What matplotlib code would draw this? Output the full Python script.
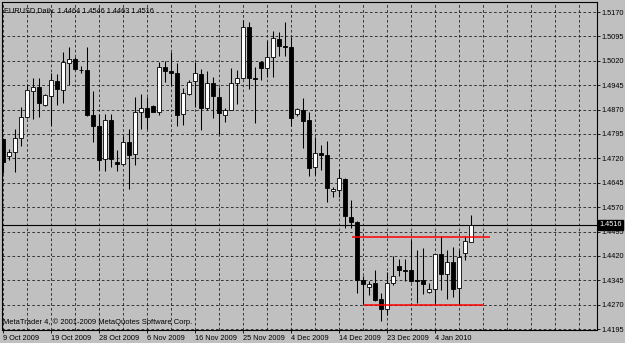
import matplotlib
matplotlib.use('Agg')
import matplotlib.pyplot as plt
import matplotlib.transforms as mtransforms
import numpy as np

# ---- data ----
chart_title = 'EURUSD,Daily  1.4464 1.4546 1.4463 1.4516'
copyright_text = 'MetaTrader 4, © 2001-2009 MetaQuotes Software Corp.'

date_labels = ['9 Oct 2009', '19 Oct 2009', '28 Oct 2009', '6 Nov 2009', '16 Nov 2009',
               '25 Nov 2009', '4 Dec 2009', '14 Dec 2009', '23 Dec 2009', '4 Jan 2010']

price_ticks = [1.5170, 1.5095, 1.5020, 1.4945, 1.4870, 1.4795, 1.4720,
               1.4645, 1.4570, 1.4495, 1.4420, 1.4345, 1.4270, 1.4195]

opens = [1.4780, 1.4728, 1.4739, 1.4782, 1.4846, 1.4927, 1.4938, 1.4883, 1.4912, 1.4959,
         1.4930, 1.5014, 1.5026, 1.4992, 1.4992, 1.4853, 1.4821, 1.4717, 1.4838, 1.4710,
         1.4703, 1.4771, 1.4733, 1.4864, 1.4876, 1.4881, 1.4864, 1.5002, 1.4989, 1.4982,
         1.4857, 1.4917, 1.4957, 1.4979, 1.4874, 1.4952, 1.4910, 1.4852, 1.4869, 1.4953,
         1.4966, 1.5123, 1.4967, 1.5015, 1.4998, 1.5033, 1.5087, 1.5064, 1.5061, 1.4856,
         1.4870, 1.4837, 1.4693, 1.4736, 1.4730, 1.4620, 1.4624, 1.4657, 1.4541, 1.4525,
         1.4345, 1.4326, 1.4336, 1.4288, 1.4256, 1.4336, 1.4390, 1.4376, 1.4378, 1.4345,
         1.4345, 1.4308, 1.4318, 1.4427, 1.4365, 1.4401, 1.4322, 1.4429, 1.4464]
highs = [1.4783, 1.4749, 1.4810, 1.4878, 1.4950, 1.4966, 1.4966, 1.4918, 1.4982, 1.4979,
         1.5048, 1.5061, 1.5032, 1.5004, 1.5061, 1.4927, 1.4855, 1.4856, 1.4856, 1.4746,
         1.4790, 1.4810, 1.4909, 1.4917, 1.4910, 1.4884, 1.5017, 1.5018, 1.5048, 1.5013,
         1.4936, 1.4961, 1.5016, 1.4995, 1.4990, 1.4970, 1.4939, 1.4874, 1.4997, 1.4992,
         1.5145, 1.5139, 1.5002, 1.5019, 1.5081, 1.5113, 1.5109, 1.5140, 1.5093, 1.4875,
         1.4905, 1.4864, 1.4787, 1.4761, 1.4773, 1.4632, 1.4686, 1.4660, 1.4592, 1.4528,
         1.4359, 1.4342, 1.4376, 1.4306, 1.4370, 1.4421, 1.4412, 1.4411, 1.4468, 1.4438,
         1.4444, 1.4337, 1.4426, 1.4482, 1.4437, 1.4449, 1.4438, 1.4481, 1.4546]
lows = [1.4675, 1.4715, 1.4677, 1.4758, 1.4844, 1.4840, 1.4848, 1.4881, 1.4823, 1.4884,
        1.4889, 1.4946, 1.4992, 1.4984, 1.4850, 1.4770, 1.4683, 1.4680, 1.4694, 1.4681,
        1.4700, 1.4625, 1.4701, 1.4811, 1.4810, 1.4863, 1.4853, 1.4955, 1.4946, 1.4820,
        1.4824, 1.4915, 1.4879, 1.4807, 1.4869, 1.4843, 1.4795, 1.4831, 1.4869, 1.4887,
        1.4964, 1.4934, 1.4828, 1.4961, 1.4969, 1.4969, 1.5036, 1.5035, 1.4821, 1.4849,
        1.4753, 1.4667, 1.4669, 1.4684, 1.4587, 1.4601, 1.4601, 1.4505, 1.4505, 1.4305,
        1.4269, 1.4300, 1.4283, 1.4219, 1.4240, 1.4331, 1.4358, 1.4343, 1.4340, 1.4276,
        1.4303, 1.4305, 1.4276, 1.4315, 1.4288, 1.4295, 1.4269, 1.4409, 1.4463]
closes = [1.4709, 1.4740, 1.4782, 1.4846, 1.4929, 1.4939, 1.4891, 1.4915, 1.4961, 1.4932,
          1.5015, 1.5025, 1.4994, 1.4991, 1.4853, 1.4821, 1.4715, 1.4838, 1.4717, 1.4704,
          1.4771, 1.4731, 1.4864, 1.4876, 1.4846, 1.4864, 1.5002, 1.4989, 1.4981, 1.4853,
          1.4920, 1.4955, 1.4982, 1.4876, 1.4953, 1.4912, 1.4859, 1.4869, 1.4953, 1.4966,
          1.5123, 1.4966, 1.4965, 1.4997, 1.5033, 1.5089, 1.5065, 1.5062, 1.4843, 1.4871,
          1.4835, 1.4690, 1.4737, 1.4730, 1.4628, 1.4625, 1.4659, 1.4543, 1.4525, 1.4346,
          1.4335, 1.4333, 1.4285, 1.4256, 1.4336, 1.4359, 1.4378, 1.4375, 1.4343, 1.4343,
          1.4335, 1.4318, 1.4425, 1.4366, 1.4403, 1.4318, 1.4418, 1.4466, 1.4516]

bid_price = 1.4516

# horizontal trend lines drawn on the chart (level, first bar, last bar)
line_levels = [1.4477, 1.4268]
line_starts = [58.1, 60.0]
line_ends = [81.2, 80.2]

# ---- figure ----
bg = '#C0C0C0'
plt.rcParams['font.family'] = ['Liberation Sans', 'DejaVu Sans']

fig = plt.figure(figsize=(6.25, 3.43), dpi=100, facecolor=bg)
ax = fig.add_axes([1.7 / 625, (343 - 330.3) / 343, (597 - 1.7) / 625, (330.3 - 1.7) / 343])
ax.set_facecolor(bg)

# grid: every 4 bars / every price tick, short black dashes
for gx in range(0, 100, 4):
    ax.axvline(gx, color='#101010', lw=0.55, ls=(0, (3.5, 3)), zorder=1)
for gy in price_ticks:
    ax.axhline(gy, color='#101010', lw=0.55, ls=(0, (3.5, 3)), zorder=1)

# candles
o = np.array(opens)
h = np.array(highs)
l = np.array(lows)
c = np.array(closes)
x = np.arange(len(o))
up = c >= o

ax.vlines(x, l, h, color='black', lw=0.75, zorder=3)
ax.bar(x[up], (c - o)[up], bottom=o[up], width=0.62, color='white',
       edgecolor='black', lw=0.6, zorder=4)
ax.bar(x[~up], (o - c)[~up], bottom=c[~up], width=0.62, color='black',
       edgecolor='black', lw=0.6, zorder=4)

# red support / resistance lines
for lev, x0, x1 in zip(line_levels, line_starts, line_ends):
    ax.hlines(lev, x0, x1, color='#FF0000', lw=1.1, zorder=5)

# bid line and price box
ax.axhline(bid_price, color='black', lw=0.8, zorder=2)
trans = mtransforms.blended_transform_factory(ax.transAxes, ax.transData)
ax.text(1.004, bid_price, f'{bid_price:.4f}', transform=trans, va='center', ha='left',
        color='white', fontsize=5.2, zorder=10, clip_on=False,
        bbox=dict(boxstyle='square,pad=0.18', fc='black', ec='black'))

ax.set_xlim(-0.22, 99)
ax.set_ylim(1.41915, 1.52017)

# axes / ticks
ax.yaxis.tick_right()
ax.set_yticks(price_ticks)
ax.set_yticklabels([f'{p:.4f}' for p in price_ticks])
ax.set_xticks(range(0, 8 * len(date_labels), 8))
ax.set_xticklabels(date_labels)
for lbl in ax.get_xticklabels():
    lbl.set_horizontalalignment('left')
ax.tick_params(axis='both', direction='out', length=2.5, width=0.6, color='black',
               labelsize=5.3, labelcolor='black', pad=1)
for sp in ax.spines.values():
    sp.set_color('black')
    sp.set_linewidth(0.8)

# texts inside the chart
ax.text(0.004, 0.982, chart_title, transform=ax.transAxes, va='top', ha='left',
        fontsize=5.3, color='black', zorder=10)
ax.text(0.003, 0.012, copyright_text, transform=ax.transAxes, va='bottom', ha='left',
        fontsize=5.4, color='black', zorder=10)

fig.savefig('out.png', dpi=100, facecolor=bg)
